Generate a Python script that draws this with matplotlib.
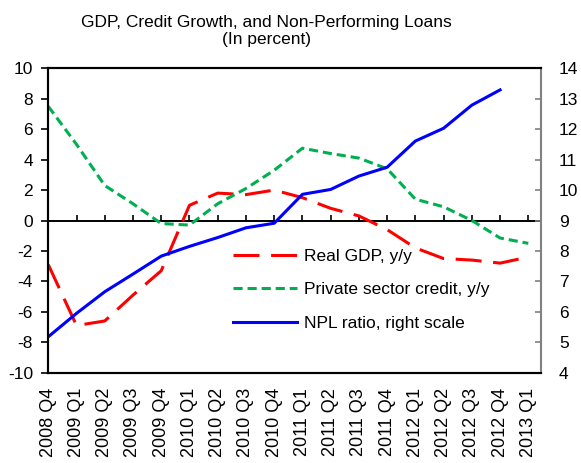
import matplotlib
matplotlib.use("Agg")
import matplotlib.pyplot as plt

plt.rcParams['font.family'] = ['Liberation Sans', 'DejaVu Sans']
plt.rcParams['font.size'] = 12
plt.rcParams['axes.unicode_minus'] = False

quarters = ["2008 Q4", "2009 Q1", "2009 Q2", "2009 Q3", "2009 Q4",
            "2010 Q1", "2010 Q2", "2010 Q3", "2010 Q4",
            "2011 Q1", "2011 Q2", "2011 Q3", "2011 Q4",
            "2012 Q1", "2012 Q2", "2012 Q3", "2012 Q4", "2013 Q1"]
real_gdp = [-2.9, -6.9, -6.6, -4.9, -3.3, 1.0, 1.8, 1.7, 2.0,
            1.5, 0.8, 0.3, -0.6, -1.8, -2.5, -2.6, -2.8, -2.4]
private_credit = [7.5, 5.0, 2.3, 1.1, -0.2, -0.3, 1.1, 2.1, 3.3,
                  4.75, 4.4, 4.1, 3.4, 1.4, 0.9, 0.0, -1.15, -1.5]
npl_ratio = [5.18, 5.95, 6.66, 7.24, 7.83, 8.15, 8.44, 8.76, 8.91,
             9.86, 10.02, 10.46, 10.75, 11.61, 12.03, 12.79, 13.29]

title = "GDP, Credit Growth, and Non-Performing Loans\n(In percent)"

fig = plt.figure(figsize=(5.81, 4.63), dpi=100)
ax = fig.add_axes([0.0831, 0.195, 0.8481, 0.6575])
ax2 = ax.twinx()

xs = list(range(len(quarters)))

l1, = ax.plot(xs, real_gdp, color="#FF0000", lw=2.2, dashes=(8.5, 3.8),
              dash_capstyle='butt', label="Real GDP, y/y", zorder=3)
l2, = ax.plot(xs, private_credit, color="#00B050", lw=2.2, dashes=(3.0, 1.6),
              dash_capstyle='butt', label="Private sector credit, y/y", zorder=3)
l3, = ax2.plot(xs[:len(npl_ratio)], npl_ratio, color="#0000FF", lw=2.2,
               label="NPL ratio, right scale")

ax.set_xlim(0, 17.45)
ax.set_ylim(-10, 10)
ax.set_yticks(range(-10, 11, 2))
ax2.set_ylim(4, 14)
ax2.set_yticks(range(4, 15))

ax.set_xticks(xs)
ax.set_xticklabels(quarters, rotation=90, fontsize=13)
ax.tick_params(axis='x', length=0, pad=11)
ax.tick_params(axis='y', direction='out', length=5, width=1.2, pad=6,
               labelsize=12.5)
ax2.tick_params(axis='y', direction='in', length=4, width=1.2, pad=13,
                color="#808080", labelsize=12.5)

# zero line with tick marks
zero = ax.secondary_xaxis(0.5)
zero.set_xticks(xs)
zero.tick_params(length=4, width=1.2, labeltop=False, labelbottom=False)
for s in zero.spines.values():
    s.set_linewidth(1.4)

for name in ['left', 'top', 'bottom']:
    ax.spines[name].set_linewidth(1.5)
    ax2.spines[name].set_linewidth(1.5)
ax2.spines['right'].set_color("#808080")
ax2.spines['right'].set_linewidth(1.5)
ax.spines['right'].set_visible(False)

leg = ax.legend(handles=[l1, l2, l3], loc='center left',
                bbox_to_anchor=(0.374, 0.272), frameon=False,
                borderpad=0, borderaxespad=0, handlelength=3.7,
                handletextpad=0.4, labelspacing=1.05, fontsize=12.5)

fig.text(266 / 581, 1 - 31 / 463, title, ha='center', va='center',
         fontsize=12.5, linespacing=1.1)

fig.savefig("out.png", dpi=100)
